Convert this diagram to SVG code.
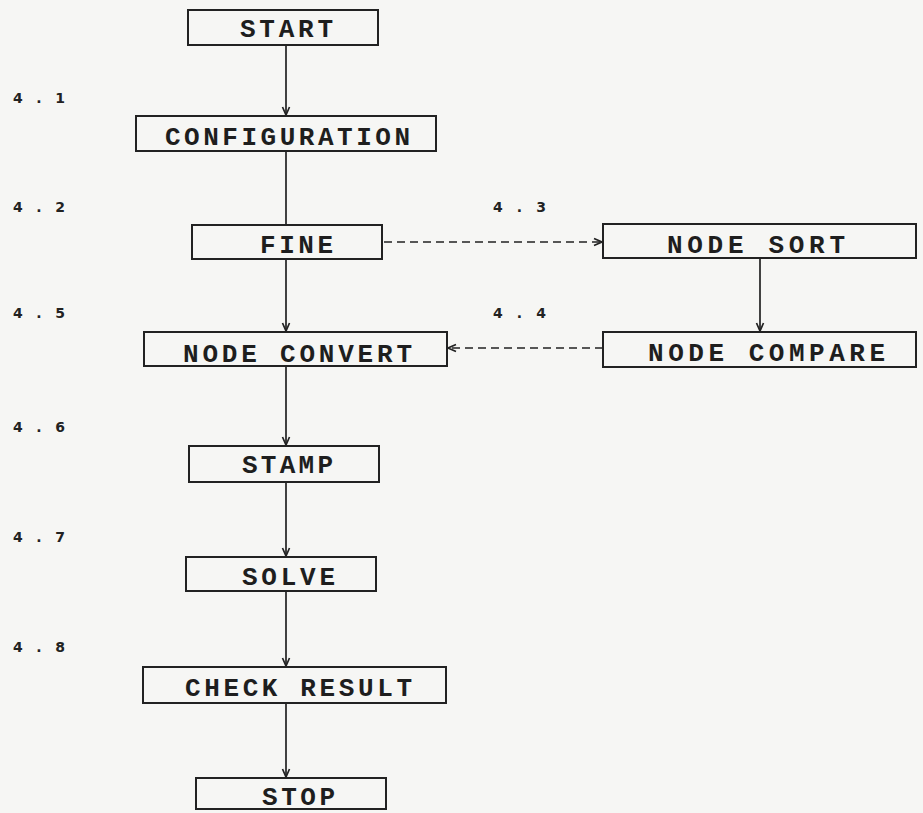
<svg xmlns="http://www.w3.org/2000/svg" width="923" height="813" viewBox="0 0 923 813">
<defs>
<style>
.bg{fill:#f6f6f4}
.box{fill:none;stroke:#222;stroke-width:2}
.t{font-family:"Liberation Mono","Courier New",monospace;font-weight:bold;font-size:26px;fill:#1e1e1e}
.lbl{font-family:"DejaVu Sans","Liberation Sans",sans-serif;font-weight:bold;font-size:14px;fill:#222}
.ln{fill:none;stroke:#222;stroke-width:1.7}
.dash{fill:none;stroke:#222;stroke-width:1.7;stroke-dasharray:8 5}
</style>
<marker id="ah" markerWidth="10" markerHeight="10" refX="9" refY="5" orient="auto" markerUnits="userSpaceOnUse">
<path d="M1,1.5 L9,5 L1,8.5" fill="none" stroke="#222" stroke-width="1.7"/>
</marker>
</defs>
<rect class="bg" x="0" y="0" width="923" height="813"/>

<g id="labels">
<text class="lbl" x="13" y="103" textLength="52" lengthAdjust="spacing">4 . 1</text>
<text class="lbl" x="13" y="212" textLength="52" lengthAdjust="spacing">4 . 2</text>
<text class="lbl" x="493" y="212" textLength="53" lengthAdjust="spacing">4 . 3</text>
<text class="lbl" x="493" y="318" textLength="53" lengthAdjust="spacing">4 . 4</text>
<text class="lbl" x="13" y="318" textLength="52" lengthAdjust="spacing">4 . 5</text>
<text class="lbl" x="13" y="432" textLength="52" lengthAdjust="spacing">4 . 6</text>
<text class="lbl" x="13" y="542" textLength="52" lengthAdjust="spacing">4 . 7</text>
<text class="lbl" x="13" y="652" textLength="52" lengthAdjust="spacing">4 . 8</text>
</g>

<g id="connectors">
<line class="ln" x1="286" y1="45" x2="286" y2="115" marker-end="url(#ah)"/>
<line class="ln" x1="286" y1="151" x2="286" y2="225"/>
<line class="ln" x1="286" y1="259" x2="286" y2="331" marker-end="url(#ah)"/>
<line class="ln" x1="286" y1="366" x2="286" y2="445" marker-end="url(#ah)"/>
<line class="ln" x1="286" y1="482" x2="286" y2="556" marker-end="url(#ah)"/>
<line class="ln" x1="286" y1="591" x2="286" y2="666" marker-end="url(#ah)"/>
<line class="ln" x1="286" y1="703" x2="286" y2="777" marker-end="url(#ah)"/>
<line class="ln" x1="760" y1="258" x2="760" y2="331" marker-end="url(#ah)"/>
<line class="dash" x1="384" y1="242" x2="602" y2="242" marker-end="url(#ah)"/>
<line class="dash" x1="603" y1="348" x2="448" y2="348" marker-end="url(#ah)"/>
</g>

<g id="start"><rect class="box" x="188" y="10" width="190" height="35"/><text class="t" x="240" y="37" textLength="93" lengthAdjust="spacing">START</text></g>
<g id="configuration"><rect class="box" x="136" y="116" width="300" height="35"/><text class="t" x="165" y="145" textLength="245" lengthAdjust="spacing">CONFIGURATION</text></g>
<g id="fine"><rect class="box" x="192" y="225" width="190" height="34"/><text class="t" x="260" y="253" textLength="73" lengthAdjust="spacing">FINE</text></g>
<g id="node-sort"><rect class="box" x="603" y="224" width="313" height="34"/><text class="t" x="667" y="253" textLength="178" lengthAdjust="spacing">NODE SORT</text></g>
<g id="node-compare"><rect class="box" x="603" y="332" width="313" height="35"/><text class="t" x="648" y="361" textLength="237" lengthAdjust="spacing">NODE COMPARE</text></g>
<g id="node-convert"><rect class="box" x="144" y="332" width="303" height="34"/><text class="t" x="183" y="362" textLength="229" lengthAdjust="spacing">NODE CONVERT</text></g>
<g id="stamp"><rect class="box" x="189" y="446" width="190" height="36"/><text class="t" x="242" y="473" textLength="91" lengthAdjust="spacing">STAMP</text></g>
<g id="solve"><rect class="box" x="186" y="557" width="190" height="34"/><text class="t" x="242" y="585" textLength="93" lengthAdjust="spacing">SOLVE</text></g>
<g id="check-result"><rect class="box" x="143" y="667" width="303" height="36"/><text class="t" x="185" y="696" textLength="227" lengthAdjust="spacing">CHECK RESULT</text></g>
<g id="stop"><rect class="box" x="196" y="778" width="190" height="31"/><text class="t" x="262" y="805" textLength="73" lengthAdjust="spacing">STOP</text></g>
</svg>
